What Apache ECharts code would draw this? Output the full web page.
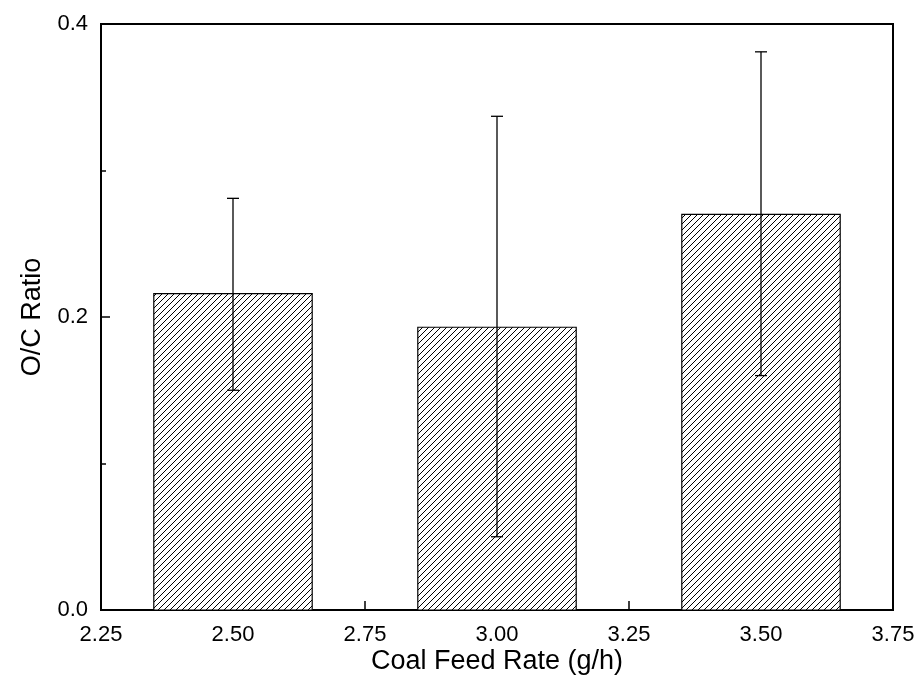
<!DOCTYPE html>
<html>
<head>
<meta charset="utf-8">
<script src="https://cdn.jsdelivr.net/npm/echarts@6/dist/echarts.min.js"></script>
<style>html,body{margin:0;padding:0;background:#fff}#c{width:921px;height:697px}</style>
</head>
<body>
<div id="c"></div>
<script>
const feedRates = [2.5, 3.0, 3.5];
const ocRatio = [0.216, 0.193, 0.270];
const errLow = [0.150, 0.050, 0.160];
const errHigh = [0.281, 0.337, 0.381];
const barHalfWidth = 0.15;
const xTicks = [2.25, 2.5, 2.75, 3.0, 3.25, 3.5, 3.75];
const yTicks = [0.0, 0.2, 0.4];

const pc = document.createElement('canvas');
pc.width = 6; pc.height = 6;
const g = pc.getContext('2d');
g.fillStyle = '#fff'; g.fillRect(0,0,6,6);
g.strokeStyle = '#000'; g.lineWidth = 1;
g.beginPath();
g.moveTo(-1,7); g.lineTo(7,-1);
g.moveTo(-4,4); g.lineTo(4,-4);
g.moveTo(2,10); g.lineTo(10,2);
g.stroke();

const chart = echarts.init(document.getElementById('c'), null, {renderer:'canvas'});
const font = '"Liberation Sans", Arial, sans-serif';
chart.setOption({
  animation:false,
  backgroundColor:'#fff',
  grid:{left:101,right:28,top:24,bottom:87,show:true,borderColor:'#000',borderWidth:2,backgroundColor:'transparent'},
  xAxis:{
    type:'value',min:xTicks[0],max:xTicks[xTicks.length-1],interval:0.25,
    name:'Coal Feed Rate (g/h)',nameLocation:'middle',nameGap:38,nameMoveOverlap:false,
    nameTextStyle:{fontFamily:font,fontSize:27,color:'#000'},
    axisLine:{lineStyle:{color:'#000',width:2}},
    axisTick:{inside:true,length:9,lineStyle:{color:'#000',width:1.5}},
    minorTick:{show:true,splitNumber:2,length:5,lineStyle:{color:'#000',width:1.5}},
    axisLabel:{margin:14,fontFamily:font,fontSize:22,color:'#000',formatter:v=>v.toFixed(2)},
    splitLine:{show:false}
  },
  yAxis:{
    type:'value',min:yTicks[0],max:yTicks[yTicks.length-1],interval:0.2,
    name:'O/C Ratio',nameLocation:'middle',nameGap:55,nameMoveOverlap:false,
    nameTextStyle:{fontFamily:font,fontSize:27,color:'#000'},
    axisLine:{show:true,lineStyle:{color:'#000',width:2}},
    axisTick:{show:true,inside:true,length:9,lineStyle:{color:'#000',width:1.5}},
    minorTick:{show:true,splitNumber:2,length:5,lineStyle:{color:'#000',width:1.5}},
    axisLabel:{margin:13,fontFamily:font,fontSize:22,color:'#000',formatter:v=>v.toFixed(1)},
    splitLine:{show:false}
  },
  series:[
    {
      type:'custom',
      data:feedRates.map((x,i)=>[x,ocRatio[i]]),
      renderItem:(params,api)=>{
        const x=api.value(0), y=api.value(1);
        const p1=api.coord([x-barHalfWidth,y]);
        const p2=api.coord([x+barHalfWidth,0]);
        return {type:'rect',shape:{x:p1[0],y:p1[1],width:p2[0]-p1[0],height:p2[1]-p1[1]},
          style:{fill:{image:pc,repeat:'repeat'},stroke:'#000',lineWidth:1.2}};
      },
      z:2
    },
    {
      type:'custom',
      data:feedRates.map((x,i)=>[x,errLow[i],errHigh[i]]),
      renderItem:(params,api)=>{
        const x=api.value(0);
        const lo=api.coord([x,api.value(1)]);
        const hi=api.coord([x,api.value(2)]);
        const c=6;
        return {type:'group',children:[
          {type:'line',shape:{x1:lo[0],y1:lo[1],x2:hi[0],y2:hi[1]},style:{stroke:'#000',lineWidth:1.3}},
          {type:'line',shape:{x1:lo[0]-c,y1:lo[1],x2:lo[0]+c,y2:lo[1]},style:{stroke:'#000',lineWidth:1.3}},
          {type:'line',shape:{x1:hi[0]-c,y1:hi[1],x2:hi[0]+c,y2:hi[1]},style:{stroke:'#000',lineWidth:1.3}}
        ]};
      },
      z:3
    }
  ]
});
</script>
</body>
</html>
